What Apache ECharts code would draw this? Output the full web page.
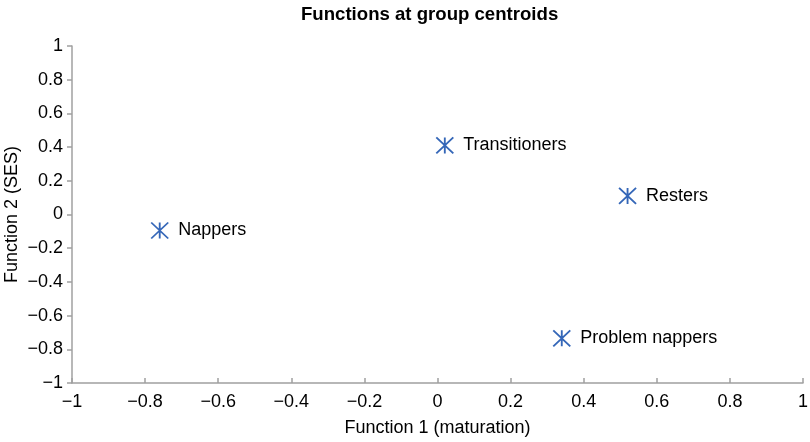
<!DOCTYPE html>
<html><head><meta charset="utf-8">
<script src="https://cdn.jsdelivr.net/npm/echarts@6/dist/echarts.min.js"></script>
<style>html,body{margin:0;padding:0;background:#fff}#c{width:810px;height:442px}</style>
</head><body><div id="c"></div>
<script>
const groups = ['Nappers', 'Transitioners', 'Resters', 'Problem nappers'];
const function1 = [-0.76, 0.02, 0.52, 0.34];
const function2 = [-0.095, 0.41, 0.11, -0.735];
const xTicks = [-1, -0.8, -0.6, -0.4, -0.2, 0, 0.2, 0.4, 0.6, 0.8, 1];

const fmt = v => {
  const r = Math.round(v * 10) / 10;
  return r < 0 ? '\u2212' + String(Math.abs(r)) : String(r);
};
const FONT = 'Liberation Sans, Arial, sans-serif';
const chart = echarts.init(document.getElementById('c'));
chart.setOption({
  animation: false,
  title: { text: 'Functions at group centroids', left: 296, top: 0,
    textStyle: { fontFamily: FONT, fontWeight: 'bold', fontSize: 18.6, color: '#000' } },
  grid: { left: 72, right: 7, top: 46, bottom: 59, containLabel: false, outerBoundsMode: 'none' },
  xAxis: { type: 'value', min: -1, max: 1, interval: 0.2,
    name: 'Function 1 (maturation)', nameLocation: 'middle', nameGap: 36, nameMoveOverlap: false,
    nameTextStyle: { fontFamily: FONT, fontSize: 18, color: '#000', verticalAlign: 'top' },
    axisLine: { show: true, onZero: false, lineStyle: { color: '#a0a0a0', width: 1.5 } },
    axisTick: { show: true, inside: true, length: 5, lineStyle: { color: '#a0a0a0', width: 1.5 } },
    splitLine: { show: false },
    axisLabel: { formatter: fmt, fontFamily: FONT, fontSize: 18, color: '#000', margin: 10 } },
  yAxis: { type: 'value', min: -1, max: 1, interval: 0.2,
    name: 'Function 2 (SES)', nameLocation: 'middle', nameGap: 51, nameMoveOverlap: false,
    nameTextStyle: { fontFamily: FONT, fontSize: 18, color: '#000' },
    axisLine: { show: true, onZero: false, lineStyle: { color: '#a0a0a0', width: 1.5 } },
    axisTick: { show: true, length: 5, lineStyle: { color: '#a0a0a0', width: 1.5 } },
    splitLine: { show: false },
    axisLabel: { formatter: fmt, fontFamily: FONT, fontSize: 18, color: '#000', margin: 9 } },
  series: [{
    type: 'scatter',
    data: groups.map((g, i) => ({ name: g, value: [function1[i], function2[i]] })),
    symbol: 'path://M0,0 L10,10 M10,0 L0,10 M5,0 L5,10',
    symbolSize: [17, 16],
    itemStyle: { color: 'rgba(0,0,0,0)', borderColor: '#3567b8', borderWidth: 1.8, opacity: 1 },
    label: { show: true, position: 'right', distance: 9, formatter: '{b}',
      fontFamily: FONT, fontSize: 18, color: '#000' }
  }]
});
</script></body></html>
